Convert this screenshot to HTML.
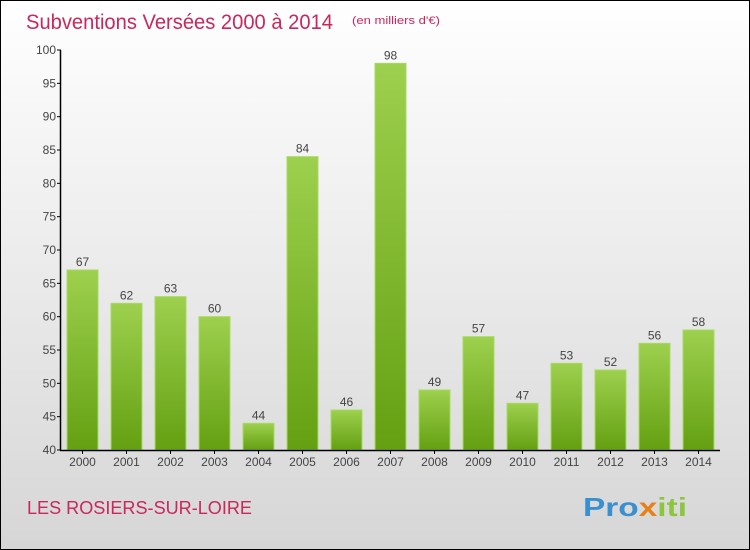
<!DOCTYPE html>
<html><head><meta charset="utf-8"><style>
body{margin:0}
svg{display:block;font-family:"Liberation Sans",sans-serif}
</style></head><body>
<svg width="750" height="550" viewBox="0 0 750 550">
<defs>
<linearGradient id="bg" x1="0" y1="0" x2="0" y2="1"><stop offset="0" stop-color="#ffffff"/><stop offset="1" stop-color="#d6d6d6"/></linearGradient>
<linearGradient id="bar" x1="0" y1="0" x2="0" y2="1"><stop offset="0" stop-color="#9dd04e"/><stop offset="1" stop-color="#64a012"/></linearGradient>
</defs>
<rect x="0.5" y="0.5" width="749" height="549" fill="url(#bg)" stroke="#000"/>
<text x="26" y="29" font-size="21" textLength="307" lengthAdjust="spacingAndGlyphs" fill="#c8285a">Subventions Versées 2000 à 2014</text>
<text x="352" y="24" font-size="11" textLength="88" lengthAdjust="spacingAndGlyphs" fill="#c8285a">(en milliers d'€)</text>
<text x="27" y="514" font-size="18" textLength="225" lengthAdjust="spacingAndGlyphs" fill="#c8285a">LES ROSIERS-SUR-LOIRE</text>
<text x="583" y="516" font-size="26" font-weight="bold" textLength="104" lengthAdjust="spacingAndGlyphs" fill="#3a8fd0">Pro<tspan fill="#e8801a">x</tspan><tspan fill="#8cc63f">iti</tspan></text>
<g id="plot"></g>
</svg>
<script>
const categories=["2000","2001","2002","2003","2004","2005","2006","2007","2008","2009","2010","2011","2012","2013","2014"];
const values=[67,62,63,60,44,84,46,98,49,57,47,53,52,56,58];
const yTicks=[40,45,50,55,60,65,70,75,80,85,90,95,100];
const ns="http://www.w3.org/2000/svg";
const g=document.getElementById('plot');
const y=v=>450-(v-40)*(400/60);
const x=i=>67+44*i;
function mk(t,a,txt){const e=document.createElementNS(ns,t);for(const k in a)e.setAttribute(k,a[k]);if(txt!=null)e.textContent=txt;g.appendChild(e);return e;}
values.forEach((v,i)=>{
 const r=mk('rect',{x:x(i),y:y(v),width:31,height:450-y(v),fill:'url(#bar)',stroke:'#a8da60','stroke-width':1});
 
 
 const t=mk('text',{x:x(i)+15.5,y:y(v)-4,'font-size':12,'text-anchor':'middle',fill:'#444'},v);
 
 
 const c=mk('text',{x:x(i)+15.5,y:466,'font-size':12,'text-anchor':'middle',fill:'#444'},categories[i]);
 
 
 const tk=mk('line',{x1:x(i)+15.5,x2:x(i)+15.5,y1:450,y2:454,stroke:'#000'});
 
 
});
yTicks.forEach(v=>{
 const l=mk('line',{x1:57,x2:61,y1:y(v),y2:y(v),stroke:'#000'});
 
 
 const t=mk('text',{x:56,y:y(v)+4,'font-size':12,'text-anchor':'end',fill:'#444'},v);
 
 
});
const ya=mk('line',{x1:60.5,x2:60.5,y1:50,y2:450,stroke:'#000','stroke-width':1.5});


const xa=mk('line',{x1:60,x2:720,y1:450.5,y2:450.5,stroke:'#000','stroke-width':1.5});


</script>
</body></html>
